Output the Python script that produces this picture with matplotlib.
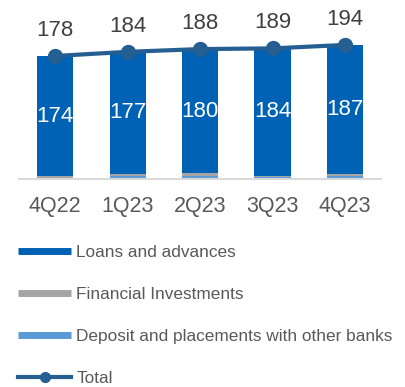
import matplotlib.pyplot as plt
from matplotlib.lines import Line2D
import numpy as np

plt.rcParams['font.family'] = ['Liberation Sans', 'DejaVu Sans']

quarters = ['4Q22', '1Q23', '2Q23', '3Q23', '4Q23']
loans = [174, 177, 180, 184, 187]
investments = [3, 3, 3, 2, 3]
deposits = [1, 4, 5, 3, 4]
total = [178, 184, 188, 189, 194]

c_loans = '#0062B4'
c_inv = '#A5A5A5'
c_dep = '#5B9BD5'
c_total = '#255E91'
c_text = '#595959'

fig = plt.figure(figsize=(4.06, 3.87), dpi=100)
ax = fig.add_axes([0.047, 0.5375, 0.892, 0.4625])

x = np.arange(len(quarters))
w = 0.5
dep = np.array(deposits)
inv = np.array(investments)
ax.bar(x, dep, w, color=c_dep, zorder=2)
ax.bar(x, inv, w, bottom=dep, color=c_inv, zorder=2)
ax.bar(x, loans, w, bottom=dep + inv, color=c_loans, zorder=2)

# value of the loans segment, white, centred in the bar
for xi, b, v in zip(x, dep + inv, loans):
    ax.text(xi, b + v / 2, str(v), ha='center', va='center', color='white', fontsize=16)

ax.plot(x, total, color=c_total, lw=3, marker='o', ms=10, zorder=3)
for xi, v in zip(x, total):
    ax.annotate(str(v), (xi, v), xytext=(0, 11), textcoords='offset points',
                ha='center', va='bottom', color='#404040', fontsize=16)

ax.set_xlim(-0.5, 4.5)
ax.set_ylim(0, 259)
ax.set_xticks(x)
ax.set_xticklabels(quarters, fontsize=15.5, color=c_text)
ax.tick_params(axis='x', length=0, pad=12)
ax.set_yticks([])
for s in ['top', 'right', 'left']:
    ax.spines[s].set_visible(False)
ax.spines['bottom'].set_color('#D9D9D9')
ax.spines['bottom'].set_linewidth(1.5)

handles = [
    Line2D([], [], color=c_loans, lw=5, solid_capstyle='butt'),
    Line2D([], [], color=c_inv, lw=5, solid_capstyle='butt'),
    Line2D([], [], color=c_dep, lw=5, solid_capstyle='butt'),
    Line2D([], [], color=c_total, lw=3, marker='o', ms=7),
]
labels = ['Loans and advances', 'Financial Investments',
          'Deposit and placements with other banks', 'Total']
leg = fig.legend(handles, labels, loc='upper left', bbox_to_anchor=(0.027, 0.384),
                 frameon=False, fontsize=12.4, handlelength=3.1, handletextpad=0.3,
                 labelspacing=1.55, numpoints=1, borderaxespad=0)
for t in leg.get_texts():
    t.set_color(c_text)

fig.savefig('out.png', dpi=100)
